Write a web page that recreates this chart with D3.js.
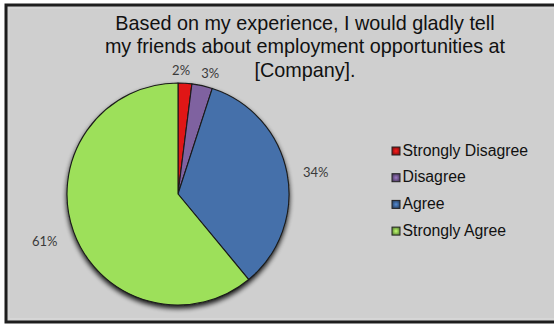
<!DOCTYPE html>
<html>
<head>
<meta charset="utf-8">
<script src="https://cdn.jsdelivr.net/npm/d3@7"></script>
<style>
  html, body { margin: 0; padding: 0; background: #ffffff; }
  svg { display: block; }
</style>
</head>
<body>
<svg id="chart" width="554" height="324"></svg>
<script>
// Survey responses
const categories = ["Strongly Disagree", "Disagree", "Agree", "Strongly Agree"];
const values = [2, 3, 34, 61];
const valueLabels = ["2%", "3%", "34%", "61%"];
const colors = ["#e01616", "#7f62a0", "#4470aa", "#9de05a"];
const titleLines = [
  "Based on my experience, I would gladly tell",
  "my friends about employment opportunities at",
  "[Company]."
];

const svg = d3.select("#chart");
const W = 554, H = 324;

const defs = svg.append("defs");
const shadow = defs.append("filter").attr("id", "pieShadow")
  .attr("x", "-20%").attr("y", "-20%").attr("width", "140%").attr("height", "140%");
shadow.append("feGaussianBlur").attr("in", "SourceAlpha").attr("stdDeviation", 2.5).attr("result", "b");
shadow.append("feOffset").attr("in", "b").attr("dx", 0).attr("dy", 3).attr("result", "o");
shadow.append("feComponentTransfer").attr("in", "o").attr("result", "s")
  .append("feFuncA").attr("type", "linear").attr("slope", 0.9);
const merge = shadow.append("feMerge");
merge.append("feMergeNode").attr("in", "s");
merge.append("feMergeNode").attr("in", "SourceGraphic");

// Legend swatch gradients
colors.forEach((c, i) => {
  const g = defs.append("radialGradient").attr("id", "sw" + i);
  g.append("stop").attr("offset", "0%").attr("stop-color", d3.color(c).brighter(0.6));
  g.append("stop").attr("offset", "100%").attr("stop-color", d3.color(c).darker(1.2));
});

// Chart frame
svg.append("rect").attr("x", 6).attr("y", 5).attr("width", W).attr("height", 317)
  .attr("fill", "#cfcfcf").attr("stroke", "#1e1e1e").attr("stroke-width", 3);
svg.append("rect").attr("x", 9).attr("y", 8).attr("width", W).attr("height", 311)
  .attr("fill", "none").attr("stroke", "#dcdcdc").attr("stroke-width", 1);

// Title
const title = svg.append("text")
  .attr("font-family", "Liberation Sans, Arial, sans-serif")
  .attr("font-size", 19.8)
  .attr("fill", "#111")
  .attr("text-anchor", "middle");
titleLines.forEach((t, i) => {
  title.append("tspan").attr("x", 305).attr("y", 30 + i * 23.3).text(t);
});

// Pie
const cx = 178, cy = 194, r = 111;
const pie = d3.pie().sort(null).value(d => d)(values);
const arc = d3.arc().innerRadius(0).outerRadius(r);
const labelArc = d3.arc().innerRadius(r + 18).outerRadius(r + 18);

const gPie = svg.append("g").attr("transform", `translate(${cx},${cy})`);
const slices = gPie.append("g").attr("filter", "url(#pieShadow)");
slices.selectAll("path").data(pie).join("path")
  .attr("d", arc)
  .attr("fill", (d, i) => colors[i])
  .attr("stroke", "#1a1a1a")
  .attr("stroke-width", 1.1)
  .attr("stroke-linejoin", "round");

// Percentage labels, nudged off the outer radius
const labelNudge = [[-5, 6], [4, 7], [11, 4], [-12, 5]];
gPie.selectAll("text.pct").data(pie).join("text")
  .attr("class", "pct")
  .attr("transform", (d, i) => {
    const p = labelArc.centroid(d);
    const adj = labelNudge[i];
    return `translate(${p[0] + adj[0]},${p[1] + adj[1]})`;
  })
  .attr("text-anchor", "middle")
  .attr("dominant-baseline", "middle")
  .attr("font-family", "Lato, Open Sans, sans-serif")
  .attr("font-size", 13)
  .attr("fill", "#3a3a3a")
  .text((d, i) => valueLabels[i]);

// Legend
const legend = svg.append("g").attr("transform", "translate(392,151)");
const li = legend.selectAll("g").data(categories).join("g")
  .attr("transform", (d, i) => `translate(0,${i * 26.7})`);
li.append("rect").attr("x", 0).attr("y", -4).attr("width", 8).attr("height", 8)
  .attr("fill", (d, i) => `url(#sw${i})`)
  .attr("stroke", "#222").attr("stroke-width", 1);
li.append("text").attr("x", 10.5).attr("y", 0.5)
  .attr("dominant-baseline", "middle")
  .attr("font-family", "Liberation Sans, Arial, sans-serif")
  .attr("font-size", 15.8)
  .attr("fill", "#111")
  .text(d => d);
</script>
</body>
</html>
